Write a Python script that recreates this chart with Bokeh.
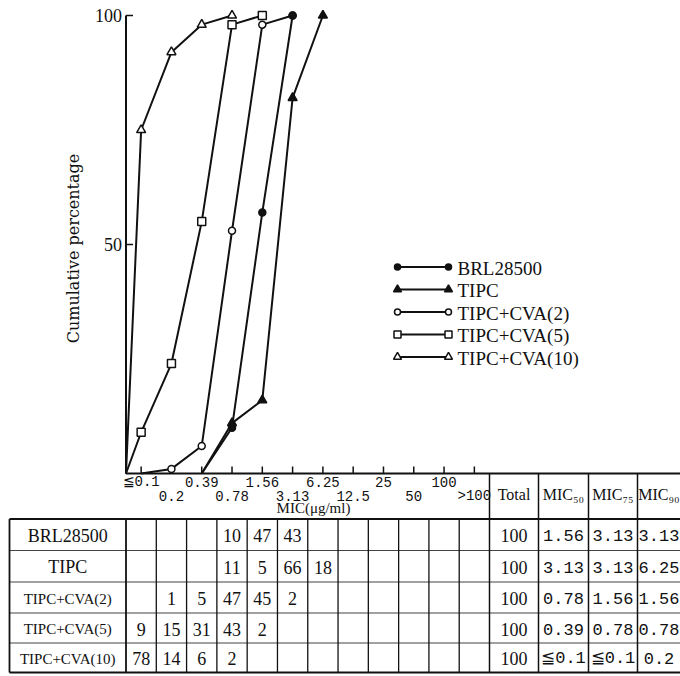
import numpy as np
from bokeh.plotting import figure
from bokeh.models import Range1d
from bokeh.core.properties import value
from bokeh.embed import file_html
from bokeh.resources import INLINE

# ---------------- data ----------------
categories = ["≦0.1", "0.2", "0.39", "0.78", "1.56", "3.13", "6.25",
              "12.5", "25", "50", "100", ">100"]
series_names = ["BRL28500", "TIPC", "TIPC+CVA(2)", "TIPC+CVA(5)", "TIPC+CVA(10)"]
y_ticks = [50, 100]

# cumulative percentage curves (x = category index, -0.5 = axis origin)
brl_x = [2, 3, 4, 5]
brl_y = [0, 10, 57, 100]
tipc_x = [2, 3, 4, 5, 6]
tipc_y = [0, 11, 16, 82, 100]
cva2_x = [0, 1, 2, 3, 4, 5]
cva2_y = [0, 1, 6, 53, 98, 100]
cva5_x = [-0.5, 0, 1, 2, 3, 4]
cva5_y = [0, 9, 24, 55, 98, 100]
cva10_x = [-0.5, 0, 1, 2, 3]
cva10_y = [0, 75, 92, 98, 100]

# table: number of strains per MIC
counts_brl = ["", "", "", "10", "47", "43", "", "", "", "", "", ""]
counts_tipc = ["", "", "", "11", "5", "66", "18", "", "", "", "", ""]
counts_cva2 = ["", "1", "5", "47", "45", "2", "", "", "", "", "", ""]
counts_cva5 = ["9", "15", "31", "43", "2", "", "", "", "", "", "", ""]
counts_cva10 = ["78", "14", "6", "2", "", "", "", "", "", "", "", ""]
totals = ["100", "100", "100", "100", "100"]
mic50 = ["1.56", "3.13", "0.78", "0.39", "≦0.1"]
mic75 = ["3.13", "3.13", "1.56", "0.78", "≦0.1"]
mic90 = ["3.13", "6.25", "1.56", "0.78", "0.2"]
extra_headers = ["Total", "MIC₅₀", "MIC₇₅", "MIC₉₀"]

# ---------------- layout ----------------
W, H = 680, 676
X0_PX, X12_PX = 125.5, 489.0          # pixel of axis origin / end of >100 column
UNIT = (X12_PX - X0_PX) / 12.0
XS = -0.5 - X0_PX / UNIT
XE = XS + W / UNIT
Y0_PX, Y100_PX = 473.0, 15.0
PCT = (Y0_PX - Y100_PX) / 100.0
YS = -(H - Y0_PX) / PCT
YE = Y0_PX / PCT

SERIF = value("Liberation Serif")
MONO = value("Liberation Mono")

p = figure(width=W, height=H, x_range=Range1d(XS, XE), y_range=Range1d(YS, YE),
           output_backend="svg", toolbar_location=None, min_border=0,
           x_axis_location=None, y_axis_location=None)
p.grid.visible = False
p.outline_line_color = None
p.background_fill_color = "white"
p.border_fill_color = "white"
p.extra_x_ranges = {"px": Range1d(0, W)}
p.extra_y_ranges = {"px": Range1d(H, 0)}

INK = "#111111"

# ---------------- axes ----------------
# y axis line and inward ticks
p.segment(x0=[-0.5], y0=[0], x1=[-0.5], y1=[100], line_color=INK, line_width=2)
p.segment(x0=[-0.5] * len(y_ticks), y0=y_ticks,
          x1=[-0.5 + 7 / UNIT] * len(y_ticks), y1=y_ticks, line_color=INK, line_width=1.5)
p.text(x=[-0.5 - 4 / UNIT] * len(y_ticks), y=y_ticks, text=[str(t) for t in y_ticks],
       text_font=value("Liberation Sans Narrow"), text_font_size="18px",
       text_align="right", text_baseline="middle", text_color=INK)
p.text(x=[73], y=[248], text=["Cumulative percentage"], x_range_name="px", y_range_name="px",
       text_font=value("DejaVu Serif"), text_font_size="16px", angle=np.pi / 2,
       text_align="center", text_baseline="middle", text_color=INK)

# x axis line (continues as the top of the right-hand header cells)
idx = np.arange(len(categories))
p.segment(x0=[-0.5], y0=[0], x1=[XE], y1=[0], line_color=INK, line_width=2)
p.segment(x0=idx, y0=[0] * len(idx), x1=idx, y1=[7 / PCT] * len(idx),
          line_color=INK, line_width=1.5)
upper = idx[::2]
lower = idx[1::2]
p.text(x=upper, y=[481] * len(upper), y_range_name="px",
       text=[categories[i] for i in upper], text_font=MONO, text_font_size="14px",
       text_align="center", text_baseline="middle", text_color=INK)
p.text(x=lower, y=[495] * len(lower), y_range_name="px",
       text=[categories[i] for i in lower], text_font=MONO, text_font_size="14px",
       text_align="center", text_baseline="middle", text_color=INK)
p.text(x=[313], y=[507], x_range_name="px", y_range_name="px", text=["MIC(μg/ml)"],
       text_font=SERIF, text_font_size="15px", text_align="center",
       text_baseline="middle", text_color=INK)

# ---------------- curves ----------------
curves = [(brl_x, brl_y), (tipc_x, tipc_y), (cva2_x, cva2_y), (cva5_x, cva5_y), (cva10_x, cva10_y)]
styles = [
    dict(marker="circle", size=7, fill_color=INK),
    dict(marker="triangle", size=9, fill_color=INK),
    dict(marker="circle", size=7, fill_color="white"),
    dict(marker="square", size=8, fill_color="white"),
    dict(marker="triangle", size=9, fill_color="white"),
]
for (xs, ys) in curves:
    p.line(xs, ys, line_color=INK, line_width=2)
# open markers first, filled markers on top
for k in [2, 3, 4, 0, 1]:
    xs, ys = curves[k]
    mx = [x for x, y in zip(xs, ys) if y > 0]
    my = [y for y in ys if y > 0]
    st = styles[k]
    p.scatter(mx, my, marker=st["marker"], size=st["size"], fill_color=st["fill_color"],
              line_color=INK, line_width=1.5)

# ---------------- legend ----------------
LEG_Y0, LEG_DY = 266.5, 22.5
LX0, LX1, LTX = 397, 448, 457
for k, name in enumerate(series_names):
    yy = LEG_Y0 + LEG_DY * k
    p.line([LX0, LX1], [yy, yy], x_range_name="px", y_range_name="px",
           line_color=INK, line_width=2)
    st = styles[k]
    p.scatter([LX0, LX1], [yy, yy], x_range_name="px", y_range_name="px",
              marker=st["marker"], size=st["size"] - 1, fill_color=st["fill_color"],
              line_color=INK, line_width=1.5)
    p.text(x=[LTX], y=[yy + 1], x_range_name="px", y_range_name="px", text=[name],
           text_font=SERIF, text_font_size="19px", text_align="left",
           text_baseline="middle", text_color=INK)

# ---------------- table ----------------
row_edges = [518.5, 550.0, 581.5, 612.5, 642.5, 672.0]
row_centers = [(a + b) / 2 for a, b in zip(row_edges[:-1], row_edges[1:])]
TBL_LEFT = 9
right_edges = [X12_PX, 538, 588, 637, W]
right_centers = [(a + b) / 2 for a, b in zip(right_edges[:-1], right_edges[1:])]

# horizontal lines
p.segment(x0=[TBL_LEFT] * 2, y0=[row_edges[0], row_edges[-1]], x1=[W] * 2,
          y1=[row_edges[0], row_edges[-1]], x_range_name="px", y_range_name="px",
          line_color=INK, line_width=2)
inner = row_edges[1:-1]
p.segment(x0=[TBL_LEFT] * len(inner), y0=inner, x1=[W] * len(inner), y1=inner,
          x_range_name="px", y_range_name="px", line_color="#444444", line_width=1.2)
# left border and name column border
p.segment(x0=[TBL_LEFT, X0_PX], y0=[row_edges[0]] * 2, x1=[TBL_LEFT, X0_PX],
          y1=[row_edges[-1]] * 2, x_range_name="px", y_range_name="px",
          line_color=INK, line_width=1.8)
# MIC column borders
kk = np.arange(1, 12) - 0.5
p.segment(x0=kk, y0=[row_edges[0]] * len(kk), x1=kk, y1=[row_edges[-1]] * len(kk),
          y_range_name="px", line_color=INK, line_width=1.3)
# right-hand columns (start at x axis line)
p.segment(x0=right_edges[:-1], y0=[Y0_PX] * 4, x1=right_edges[:-1], y1=[row_edges[-1]] * 4,
          x_range_name="px", y_range_name="px", line_color=INK, line_width=1.5)

# headers
p.text(x=right_centers, y=[494] * 4, x_range_name="px", y_range_name="px",
       text=extra_headers, text_font=SERIF, text_font_size="16px",
       text_align="center", text_baseline="middle", text_color=INK)

# row names
name_sizes = ["18px", "18px", "15px", "15px", "15px"]
for r, name in enumerate(series_names):
    p.text(x=[(TBL_LEFT + X0_PX) / 2], y=[row_centers[r] + 1], x_range_name="px",
           y_range_name="px", text=[name], text_font=SERIF, text_font_size=name_sizes[r],
           text_align="center", text_baseline="middle", text_color=INK)

# counts
all_counts = [counts_brl, counts_tipc, counts_cva2, counts_cva5, counts_cva10]
cx, cy, ct = [], [], []
for r, row in enumerate(all_counts):
    for i, t in enumerate(row):
        if t:
            cx.append(i)
            cy.append(row_centers[r] + 1)
            ct.append(t)
p.text(x=cx, y=cy, y_range_name="px", text=ct, text_font=SERIF, text_font_size="18px",
       text_align="center", text_baseline="middle", text_color=INK)

# totals and MIC values
p.text(x=[right_centers[0]] * 5, y=[c + 1 for c in row_centers], x_range_name="px",
       y_range_name="px", text=totals, text_font=SERIF, text_font_size="18px",
       text_align="center", text_baseline="middle", text_color=INK)
for j, vals in enumerate([mic50, mic75, mic90]):
    p.text(x=[right_centers[j + 1]] * 5, y=[c + 1 for c in row_centers], x_range_name="px",
           y_range_name="px", text=vals, text_font=MONO, text_font_size="17px",
           text_align="center", text_baseline="middle", text_color=INK)

open("out.html", "w").write(file_html(p, INLINE))
